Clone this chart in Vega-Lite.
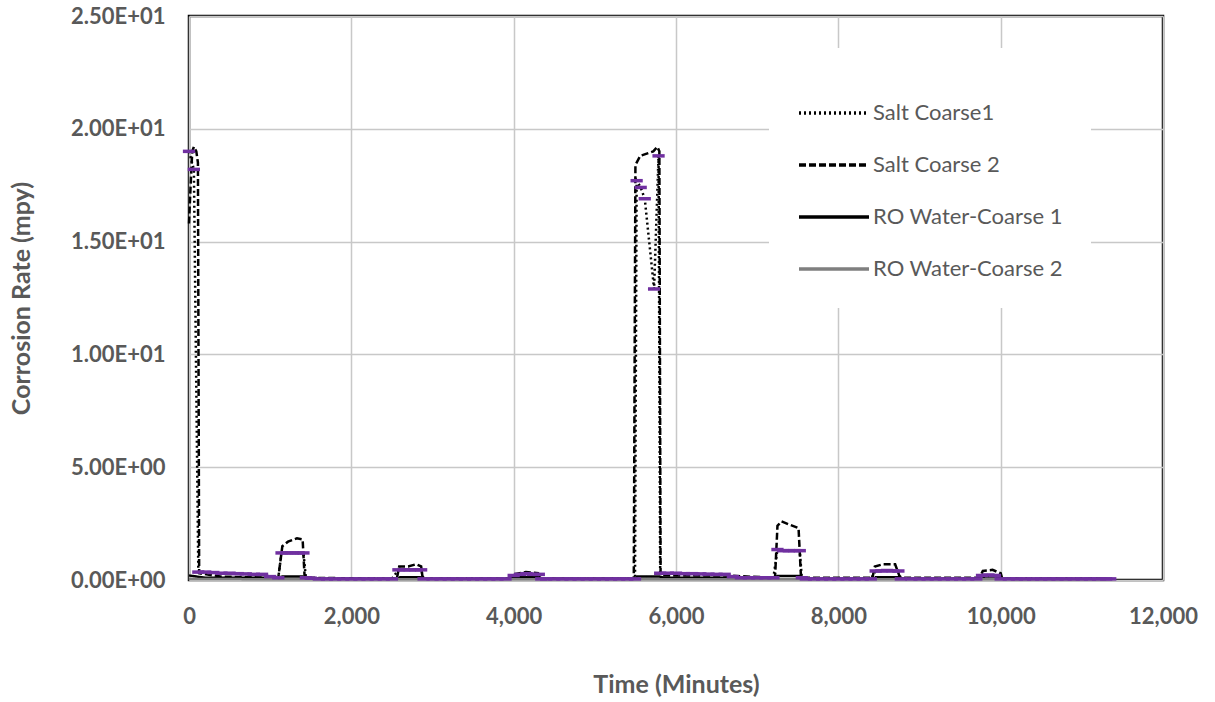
{
  "$schema": "https://vega.github.io/schema/vega-lite/v6.json",
  "autosize": {"type": "none"},
  "width": 974,
  "height": 564,
  "padding": {"left": 189, "top": 16, "right": 52, "bottom": 122},
  "background": "white",
  "config": {
    "view": {"stroke": "#000000", "strokeWidth": 2.5},
    "axis": {
      "labelFont": "Lato", "labelFontWeight": "bold", "labelColor": "#595959", "labelFontSize": 22,
      "titleFont": "Lato", "titleFontWeight": "bold", "titleColor": "#595959", "titleFontSize": 25,
      "gridColor": "#c8c8c8", "gridWidth": 1.5, "ticks": false, "domain": false
    },
    "legend": {
      "labelFont": "Lato", "labelColor": "#595959", "labelFontSize": 22, "labelLimit": 400
    }
  },
  "data": {
    "values": [
      {"s": "Salt Coarse 2", "t": 0, "v": 15.8},
      {"s": "Salt Coarse 2", "t": 20, "v": 17.5},
      {"s": "Salt Coarse 2", "t": 40, "v": 19.0},
      {"s": "Salt Coarse 2", "t": 60, "v": 19.2},
      {"s": "Salt Coarse 2", "t": 90, "v": 19.0},
      {"s": "Salt Coarse 2", "t": 110, "v": 18.5},
      {"s": "Salt Coarse 2", "t": 125, "v": 0.3},
      {"s": "Salt Coarse 2", "t": 400, "v": 0.15},
      {"s": "Salt Coarse 2", "t": 1100, "v": 0.1},
      {"s": "Salt Coarse 2", "t": 1150, "v": 1.5},
      {"s": "Salt Coarse 2", "t": 1220, "v": 1.7},
      {"s": "Salt Coarse 2", "t": 1330, "v": 1.85},
      {"s": "Salt Coarse 2", "t": 1400, "v": 1.8},
      {"s": "Salt Coarse 2", "t": 1425, "v": 0.1},
      {"s": "Salt Coarse 2", "t": 2560, "v": 0.05},
      {"s": "Salt Coarse 2", "t": 2590, "v": 0.6},
      {"s": "Salt Coarse 2", "t": 2700, "v": 0.6},
      {"s": "Salt Coarse 2", "t": 2800, "v": 0.7},
      {"s": "Salt Coarse 2", "t": 2860, "v": 0.6},
      {"s": "Salt Coarse 2", "t": 2880, "v": 0.05},
      {"s": "Salt Coarse 2", "t": 3960, "v": 0.05},
      {"s": "Salt Coarse 2", "t": 4000, "v": 0.25},
      {"s": "Salt Coarse 2", "t": 4150, "v": 0.35},
      {"s": "Salt Coarse 2", "t": 4300, "v": 0.3},
      {"s": "Salt Coarse 2", "t": 4320, "v": 0.05},
      {"s": "Salt Coarse 2", "t": 5480, "v": 0.05},
      {"s": "Salt Coarse 2", "t": 5500, "v": 18.4},
      {"s": "Salt Coarse 2", "t": 5560, "v": 18.8},
      {"s": "Salt Coarse 2", "t": 5640, "v": 18.9},
      {"s": "Salt Coarse 2", "t": 5720, "v": 19.0},
      {"s": "Salt Coarse 2", "t": 5770, "v": 19.2},
      {"s": "Salt Coarse 2", "t": 5795, "v": 19.0},
      {"s": "Salt Coarse 2", "t": 5810, "v": 0.2},
      {"s": "Salt Coarse 2", "t": 6600, "v": 0.2},
      {"s": "Salt Coarse 2", "t": 7220, "v": 0.1},
      {"s": "Salt Coarse 2", "t": 7250, "v": 2.4},
      {"s": "Salt Coarse 2", "t": 7300, "v": 2.6},
      {"s": "Salt Coarse 2", "t": 7400, "v": 2.45},
      {"s": "Salt Coarse 2", "t": 7510, "v": 2.3},
      {"s": "Salt Coarse 2", "t": 7540, "v": 0.1},
      {"s": "Salt Coarse 2", "t": 8420, "v": 0.1},
      {"s": "Salt Coarse 2", "t": 8450, "v": 0.6},
      {"s": "Salt Coarse 2", "t": 8550, "v": 0.7},
      {"s": "Salt Coarse 2", "t": 8700, "v": 0.7},
      {"s": "Salt Coarse 2", "t": 8760, "v": 0.1},
      {"s": "Salt Coarse 2", "t": 9740, "v": 0.1},
      {"s": "Salt Coarse 2", "t": 9780, "v": 0.4},
      {"s": "Salt Coarse 2", "t": 9900, "v": 0.45},
      {"s": "Salt Coarse 2", "t": 10000, "v": 0.3},
      {"s": "Salt Coarse 2", "t": 10020, "v": 0.05},
      {"s": "Salt Coarse 2", "t": 11300, "v": 0.05},

      {"s": "RO Water-Coarse 1", "t": 0, "v": 0.2},
      {"s": "RO Water-Coarse 1", "t": 100, "v": 0.15},
      {"s": "RO Water-Coarse 1", "t": 200, "v": 0.1},
      {"s": "RO Water-Coarse 1", "t": 1100, "v": 0.1},
      {"s": "RO Water-Coarse 1", "t": 1150, "v": 0.15},
      {"s": "RO Water-Coarse 1", "t": 1400, "v": 0.15},
      {"s": "RO Water-Coarse 1", "t": 1450, "v": 0.05},
      {"s": "RO Water-Coarse 1", "t": 2580, "v": 0.05},
      {"s": "RO Water-Coarse 1", "t": 2600, "v": 0.12},
      {"s": "RO Water-Coarse 1", "t": 2850, "v": 0.12},
      {"s": "RO Water-Coarse 1", "t": 2900, "v": 0.05},
      {"s": "RO Water-Coarse 1", "t": 3980, "v": 0.05},
      {"s": "RO Water-Coarse 1", "t": 4000, "v": 0.12},
      {"s": "RO Water-Coarse 1", "t": 4300, "v": 0.12},
      {"s": "RO Water-Coarse 1", "t": 4350, "v": 0.05},
      {"s": "RO Water-Coarse 1", "t": 5500, "v": 0.05},
      {"s": "RO Water-Coarse 1", "t": 5520, "v": 0.15},
      {"s": "RO Water-Coarse 1", "t": 5800, "v": 0.15},
      {"s": "RO Water-Coarse 1", "t": 5850, "v": 0.1},
      {"s": "RO Water-Coarse 1", "t": 7230, "v": 0.1},
      {"s": "RO Water-Coarse 1", "t": 7250, "v": 0.18},
      {"s": "RO Water-Coarse 1", "t": 7520, "v": 0.18},
      {"s": "RO Water-Coarse 1", "t": 7550, "v": 0.05},
      {"s": "RO Water-Coarse 1", "t": 8440, "v": 0.05},
      {"s": "RO Water-Coarse 1", "t": 8460, "v": 0.12},
      {"s": "RO Water-Coarse 1", "t": 8750, "v": 0.12},
      {"s": "RO Water-Coarse 1", "t": 8800, "v": 0.05},
      {"s": "RO Water-Coarse 1", "t": 9780, "v": 0.05},
      {"s": "RO Water-Coarse 1", "t": 9800, "v": 0.15},
      {"s": "RO Water-Coarse 1", "t": 9950, "v": 0.15},
      {"s": "RO Water-Coarse 1", "t": 10000, "v": 0.05},
      {"s": "RO Water-Coarse 1", "t": 11300, "v": 0.05},

      {"s": "RO Water-Coarse 2", "t": 0, "v": 0.05},
      {"s": "RO Water-Coarse 2", "t": 1150, "v": 0.03},
      {"s": "RO Water-Coarse 2", "t": 2600, "v": 0.03},
      {"s": "RO Water-Coarse 2", "t": 5500, "v": 0.03},
      {"s": "RO Water-Coarse 2", "t": 7250, "v": 0.03},
      {"s": "RO Water-Coarse 2", "t": 9800, "v": 0.03},
      {"s": "RO Water-Coarse 2", "t": 11300, "v": 0.02},

      {"s": "Salt Coarse1", "t": 0, "v": 19.0},
      {"s": "Salt Coarse1", "t": 60, "v": 18.2},
      {"s": "Salt Coarse1", "t": 115, "v": 0.35},
      {"s": "Salt Coarse1", "t": 200, "v": 0.35},
      {"s": "Salt Coarse1", "t": 300, "v": 0.33},
      {"s": "Salt Coarse1", "t": 400, "v": 0.3},
      {"s": "Salt Coarse1", "t": 500, "v": 0.3},
      {"s": "Salt Coarse1", "t": 600, "v": 0.28},
      {"s": "Salt Coarse1", "t": 700, "v": 0.27},
      {"s": "Salt Coarse1", "t": 800, "v": 0.25},
      {"s": "Salt Coarse1", "t": 900, "v": 0.25},
      {"s": "Salt Coarse1", "t": 1000, "v": 0.15},
      {"s": "Salt Coarse1", "t": 1100, "v": 0.1},
      {"s": "Salt Coarse1", "t": 1140, "v": 1.2},
      {"s": "Salt Coarse1", "t": 1210, "v": 1.2},
      {"s": "Salt Coarse1", "t": 1280, "v": 1.2},
      {"s": "Salt Coarse1", "t": 1350, "v": 1.2},
      {"s": "Salt Coarse1", "t": 1410, "v": 1.2},
      {"s": "Salt Coarse1", "t": 1440, "v": 0.1},
      {"s": "Salt Coarse1", "t": 1500, "v": 0.08},
      {"s": "Salt Coarse1", "t": 1600, "v": 0.05},
      {"s": "Salt Coarse1", "t": 1700, "v": 0.05},
      {"s": "Salt Coarse1", "t": 1800, "v": 0.05},
      {"s": "Salt Coarse1", "t": 1900, "v": 0.05},
      {"s": "Salt Coarse1", "t": 2000, "v": 0.05},
      {"s": "Salt Coarse1", "t": 2100, "v": 0.05},
      {"s": "Salt Coarse1", "t": 2200, "v": 0.05},
      {"s": "Salt Coarse1", "t": 2300, "v": 0.05},
      {"s": "Salt Coarse1", "t": 2400, "v": 0.05},
      {"s": "Salt Coarse1", "t": 2500, "v": 0.05},
      {"s": "Salt Coarse1", "t": 2580, "v": 0.45},
      {"s": "Salt Coarse1", "t": 2650, "v": 0.45},
      {"s": "Salt Coarse1", "t": 2720, "v": 0.45},
      {"s": "Salt Coarse1", "t": 2790, "v": 0.45},
      {"s": "Salt Coarse1", "t": 2860, "v": 0.45},
      {"s": "Salt Coarse1", "t": 2890, "v": 0.05},
      {"s": "Salt Coarse1", "t": 3000, "v": 0.05},
      {"s": "Salt Coarse1", "t": 3100, "v": 0.05},
      {"s": "Salt Coarse1", "t": 3200, "v": 0.05},
      {"s": "Salt Coarse1", "t": 3300, "v": 0.05},
      {"s": "Salt Coarse1", "t": 3400, "v": 0.05},
      {"s": "Salt Coarse1", "t": 3500, "v": 0.05},
      {"s": "Salt Coarse1", "t": 3600, "v": 0.05},
      {"s": "Salt Coarse1", "t": 3700, "v": 0.05},
      {"s": "Salt Coarse1", "t": 3800, "v": 0.05},
      {"s": "Salt Coarse1", "t": 3900, "v": 0.05},
      {"s": "Salt Coarse1", "t": 4000, "v": 0.2},
      {"s": "Salt Coarse1", "t": 4080, "v": 0.25},
      {"s": "Salt Coarse1", "t": 4160, "v": 0.28},
      {"s": "Salt Coarse1", "t": 4240, "v": 0.25},
      {"s": "Salt Coarse1", "t": 4310, "v": 0.25},
      {"s": "Salt Coarse1", "t": 4340, "v": 0.05},
      {"s": "Salt Coarse1", "t": 4400, "v": 0.05},
      {"s": "Salt Coarse1", "t": 4500, "v": 0.05},
      {"s": "Salt Coarse1", "t": 4600, "v": 0.05},
      {"s": "Salt Coarse1", "t": 4700, "v": 0.05},
      {"s": "Salt Coarse1", "t": 4800, "v": 0.05},
      {"s": "Salt Coarse1", "t": 4900, "v": 0.05},
      {"s": "Salt Coarse1", "t": 5000, "v": 0.05},
      {"s": "Salt Coarse1", "t": 5100, "v": 0.05},
      {"s": "Salt Coarse1", "t": 5200, "v": 0.05},
      {"s": "Salt Coarse1", "t": 5300, "v": 0.05},
      {"s": "Salt Coarse1", "t": 5400, "v": 0.05},
      {"s": "Salt Coarse1", "t": 5495, "v": 0.05},
      {"s": "Salt Coarse1", "t": 5515, "v": 17.7},
      {"s": "Salt Coarse1", "t": 5565, "v": 17.4},
      {"s": "Salt Coarse1", "t": 5615, "v": 16.9},
      {"s": "Salt Coarse1", "t": 5730, "v": 12.9},
      {"s": "Salt Coarse1", "t": 5785, "v": 18.8},
      {"s": "Salt Coarse1", "t": 5805, "v": 0.3},
      {"s": "Salt Coarse1", "t": 5900, "v": 0.3},
      {"s": "Salt Coarse1", "t": 6000, "v": 0.3},
      {"s": "Salt Coarse1", "t": 6100, "v": 0.28},
      {"s": "Salt Coarse1", "t": 6200, "v": 0.28},
      {"s": "Salt Coarse1", "t": 6300, "v": 0.27},
      {"s": "Salt Coarse1", "t": 6400, "v": 0.26},
      {"s": "Salt Coarse1", "t": 6500, "v": 0.25},
      {"s": "Salt Coarse1", "t": 6600, "v": 0.25},
      {"s": "Salt Coarse1", "t": 6700, "v": 0.15},
      {"s": "Salt Coarse1", "t": 6800, "v": 0.1},
      {"s": "Salt Coarse1", "t": 6900, "v": 0.1},
      {"s": "Salt Coarse1", "t": 7000, "v": 0.1},
      {"s": "Salt Coarse1", "t": 7100, "v": 0.1},
      {"s": "Salt Coarse1", "t": 7200, "v": 0.1},
      {"s": "Salt Coarse1", "t": 7250, "v": 1.35},
      {"s": "Salt Coarse1", "t": 7320, "v": 1.3},
      {"s": "Salt Coarse1", "t": 7390, "v": 1.3},
      {"s": "Salt Coarse1", "t": 7460, "v": 1.3},
      {"s": "Salt Coarse1", "t": 7525, "v": 1.3},
      {"s": "Salt Coarse1", "t": 7550, "v": 0.1},
      {"s": "Salt Coarse1", "t": 7600, "v": 0.05},
      {"s": "Salt Coarse1", "t": 7700, "v": 0.05},
      {"s": "Salt Coarse1", "t": 7800, "v": 0.05},
      {"s": "Salt Coarse1", "t": 7900, "v": 0.05},
      {"s": "Salt Coarse1", "t": 8000, "v": 0.05},
      {"s": "Salt Coarse1", "t": 8100, "v": 0.05},
      {"s": "Salt Coarse1", "t": 8200, "v": 0.05},
      {"s": "Salt Coarse1", "t": 8300, "v": 0.05},
      {"s": "Salt Coarse1", "t": 8400, "v": 0.05},
      {"s": "Salt Coarse1", "t": 8460, "v": 0.4},
      {"s": "Salt Coarse1", "t": 8530, "v": 0.4},
      {"s": "Salt Coarse1", "t": 8600, "v": 0.42},
      {"s": "Salt Coarse1", "t": 8670, "v": 0.4},
      {"s": "Salt Coarse1", "t": 8740, "v": 0.4},
      {"s": "Salt Coarse1", "t": 8770, "v": 0.05},
      {"s": "Salt Coarse1", "t": 8900, "v": 0.05},
      {"s": "Salt Coarse1", "t": 9000, "v": 0.05},
      {"s": "Salt Coarse1", "t": 9100, "v": 0.05},
      {"s": "Salt Coarse1", "t": 9200, "v": 0.05},
      {"s": "Salt Coarse1", "t": 9300, "v": 0.05},
      {"s": "Salt Coarse1", "t": 9400, "v": 0.05},
      {"s": "Salt Coarse1", "t": 9500, "v": 0.05},
      {"s": "Salt Coarse1", "t": 9600, "v": 0.05},
      {"s": "Salt Coarse1", "t": 9700, "v": 0.05},
      {"s": "Salt Coarse1", "t": 9770, "v": 0.2},
      {"s": "Salt Coarse1", "t": 9850, "v": 0.22},
      {"s": "Salt Coarse1", "t": 9930, "v": 0.2},
      {"s": "Salt Coarse1", "t": 10000, "v": 0.05},
      {"s": "Salt Coarse1", "t": 10100, "v": 0.05},
      {"s": "Salt Coarse1", "t": 10200, "v": 0.05},
      {"s": "Salt Coarse1", "t": 10300, "v": 0.05},
      {"s": "Salt Coarse1", "t": 10400, "v": 0.05},
      {"s": "Salt Coarse1", "t": 10500, "v": 0.05},
      {"s": "Salt Coarse1", "t": 10600, "v": 0.05},
      {"s": "Salt Coarse1", "t": 10700, "v": 0.05},
      {"s": "Salt Coarse1", "t": 10800, "v": 0.05},
      {"s": "Salt Coarse1", "t": 10900, "v": 0.05},
      {"s": "Salt Coarse1", "t": 11000, "v": 0.05},
      {"s": "Salt Coarse1", "t": 11100, "v": 0.05},
      {"s": "Salt Coarse1", "t": 11200, "v": 0.05},
      {"s": "Salt Coarse1", "t": 11300, "v": 0.05},
      {"s": "Salt Coarse1", "t": 11350, "v": 0.05}
    ]
  },
  "encoding": {
    "x": {
      "field": "t", "type": "quantitative",
      "scale": {"domain": [0, 12000], "nice": false},
      "axis": {"title": "Time (Minutes)", "values": [0, 2000, 4000, 6000, 8000, 10000, 12000], "labelExpr": "format(datum.value, ',')", "labelFlush": false, "labelPadding": 26, "titlePadding": 45}
    },
    "y": {
      "field": "v", "type": "quantitative",
      "scale": {"domain": [0, 25], "nice": false},
      "axis": {"title": "Corrosion Rate (mpy)", "values": [0, 5, 10, 15, 20, 25], "labelFlush": false, "labelPadding": 24, "titlePadding": 36,
        "labelExpr": "datum.value < 10 ? format(datum.value, '.2f') + 'E+00' : format(datum.value / 10, '.2f') + 'E+01'"}
    }
  },
  "layer": [
    {
      "mark": {"type": "line", "strokeWidth": 2.5, "strokeCap": "butt", "interpolate": "linear"},
      "encoding": {
        "order": {"field": "t", "type": "quantitative"},
        "color": {
          "field": "s", "type": "nominal",
          "scale": {"domain": ["Salt Coarse1", "Salt Coarse 2", "RO Water-Coarse 1", "RO Water-Coarse 2"], "range": ["#000000", "#000000", "#000000", "#7f7f7f"]},
          "legend": {
            "title": null, "orient": "none", "legendX": 580, "legendY": 32,
            "fillColor": "white", "padding": 28,
            "symbolType": "stroke", "symbolSize": 4900, "symbolStrokeWidth": 3.5,
            "rowPadding": 4, "labelOffset": 2
          }
        },
        "strokeDash": {
          "field": "s", "type": "nominal",
          "scale": {"domain": ["Salt Coarse1", "Salt Coarse 2", "RO Water-Coarse 1", "RO Water-Coarse 2"], "range": [[2, 3], [7, 3], [1, 0], [1, 0]]},
          "legend": null
        }
      }
    },
    {
      "transform": [{"filter": "datum.s == 'Salt Coarse1'"}],
      "mark": {"type": "point", "shape": "stroke", "size": 150, "strokeWidth": 3.5, "color": "#7030a0", "opacity": 1, "filled": false},
      "encoding": {}
    }
  ]
}
